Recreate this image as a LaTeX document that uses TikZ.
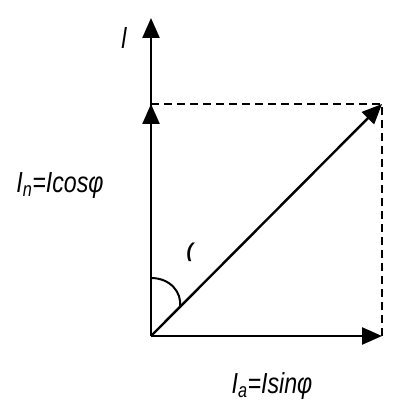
\documentclass[tikz,border=0pt]{standalone}
\usepackage{fontspec}
\usepackage{graphicx}
\newfontfamily\lab{Liberation Sans}
\usetikzlibrary{arrows.meta}
\begin{document}
\begin{tikzpicture}[x=1pt,y=-1pt,
  vec/.style={line width=2.4pt,-{Triangle[length=20pt,width=17pt]}},
  dashline/.style={line width=2.6pt,dash pattern=on 8pt off 5pt},
  arcline/.style={line width=2pt},
  lbl/.style={inner sep=0pt,font=\lab\itshape\fontsize{29}{31}\selectfont}]
\useasboundingbox (0,0) rectangle (398,403);
\coordinate (O) at (151,336);
\coordinate (T) at (151,18);
\coordinate (C) at (151,104);
\coordinate (R) at (382,104);
\coordinate (S) at (382,336);
\coordinate (A1) at (151,278);
\coordinate (A2) at (180,307);
\draw[dashline] (C) -- (R) -- (S);
\draw[vec] (O) -- (T);
\draw[vec] (O) -- (C);
\draw[vec] (O) -- (S);
\draw[vec] (O) -- (R);
\draw[arcline] (A1) .. controls (170,278) and (182,292) .. (A2);
\node[lbl] (l) at (124,38) {\scalebox{0.8}[1]{l}};
\node[lbl,font=\lab\bfseries\itshape\fontsize{20}{22}\selectfont] (phi) at (190,252) {(};
\node[lbl] (cos) at (60,186) {\scalebox{0.8}[1]{I\textsubscript{n}=Icosφ}};
\node[lbl] (sin) at (272,386) {\scalebox{0.8}[1]{I\textsubscript{a}=Isinφ}};
\end{tikzpicture}
\end{document}
